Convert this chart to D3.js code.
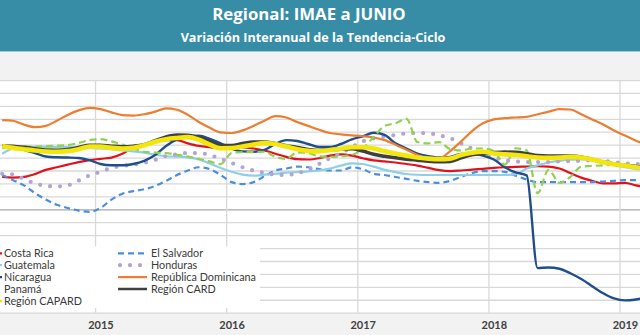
<!DOCTYPE html>
<html><head><meta charset="utf-8">
<script src="https://cdn.jsdelivr.net/npm/d3@7"></script>
<style>body{margin:0;background:#fff}svg{display:block}</style>
</head><body>
<svg id="c" width="640" height="335"></svg>
<script>
// ---- DATA (monthly, Apr 2014 .. Mar 2019) ----
const firstMonth = new Date(2014, 3, 1);
const months = d3.timeMonth.range(firstMonth, new Date(2019, 3, 1));
const yearLabels = ["2015", "2016", "2017", "2018", "2019"];
const yTicks = [-8,-7,-6,-5,-4,-3,-2,-1,0,1,2,3,4,5,6,7,8,9,10];

const costaRica = [2.5,2.45,2.5,2.72,3.05,3.25,3.45,3.65,3.8,
  3.9,4.0,4.3,4.75,5.0,5.2,5.35,5.35,5.1,4.9,4.8,4.72,
  4.75,4.78,4.7,4.55,4.3,4.05,3.88,3.85,3.95,4.15,4.25,4.15,
  3.95,3.78,3.7,3.62,3.5,3.38,3.2,3.03,2.95,3.0,3.07,3.13,
  3.2,3.25,3.28,3.3,3.33,3.3,3.15,2.8,2.45,2.2,2.0,2.0,
  2.05,1.85,1.7];
const elSalvador = [2.65,2.25,1.85,1.25,0.75,0.35,0.1,-0.1,-0.2,
  0.1,0.75,1.2,1.4,1.55,1.8,2.2,2.65,3.0,3.25,3.1,2.65,
  2.1,1.95,2.1,2.55,3.0,3.15,3.3,3.25,3.1,3.0,3.0,3.25,
  3.1,2.75,2.65,2.5,2.35,2.2,2.1,2.05,2.2,2.5,2.8,2.95,
  2.95,2.9,2.6,2.3,2.1,2.1,2.1,2.1,2.1,2.1,2.15,2.2,
  2.25,2.25,2.25];
const guatemala = [4.3,4.7,4.8,4.82,4.82,4.8,4.8,4.78,4.75,
  4.7,4.65,4.55,4.48,4.38,4.22,4.1,4.07,4.02,3.85,3.55,3.2,
  2.9,2.68,2.6,2.68,2.75,2.83,2.88,2.93,3.0,3.15,3.38,3.55,
  3.5,3.3,3.05,2.88,2.73,2.67,2.65,2.65,2.65,2.65,2.65,2.65,
  2.65,2.65,2.72,3.15,3.4,3.62,3.75,3.83,3.85,3.8,3.65,3.42,
  3.25,3.12,3.05];
const honduras = [2.75,2.7,2.35,2.0,1.82,1.77,1.85,2.22,2.62,
  2.9,3.2,3.35,3.45,3.6,3.82,4.12,4.25,4.35,4.35,4.2,3.9,
  3.58,3.25,3.0,2.82,2.68,2.65,2.78,3.05,3.5,3.95,4.35,4.8,
  5.25,5.48,5.63,5.75,5.87,5.9,5.88,5.72,5.5,5.1,4.7,4.3,
  4.0,3.8,3.7,3.65,3.65,3.65,3.7,3.72,3.75,3.78,3.75,3.65,
  3.55,3.5,3.45];
const nicaragua = [4.8,4.8,4.6,4.35,4.08,4.02,4.0,3.97,3.8,
  3.5,3.4,3.4,3.5,3.75,4.2,4.9,5.4,5.65,5.7,5.45,5.1,
  4.7,4.48,4.45,4.6,5.05,5.35,5.28,5.05,4.82,4.82,5.05,5.4,
  5.65,5.92,5.75,5.1,4.7,4.3,4.1,4.0,4.05,4.28,4.3,4.15,
  3.85,3.25,2.85,2.62,-4.55,-4.5,-4.6,-4.95,-5.4,-5.95,-6.5,-6.9,
  -7.05,-6.98,-6.8];
const repDominicana = [6.9,6.85,6.55,6.35,6.45,6.85,7.3,7.65,7.85,
  7.75,7.5,7.28,7.25,7.35,7.55,7.8,7.7,7.3,6.75,6.3,5.95,
  5.9,6.1,6.45,6.85,7.2,7.1,6.75,6.45,6.15,5.9,5.8,5.72,
  5.65,5.55,5.35,5.0,4.6,4.2,3.95,3.95,4.5,5.25,6.05,6.65,
  6.95,7.05,7.1,7.15,7.35,7.55,7.75,7.72,7.35,6.95,6.55,6.1,
  5.7,5.3,5.0];
const panama = [4.8,4.85,4.85,4.85,4.88,4.92,4.97,5.13,5.35,
  5.42,5.25,5.0,4.7,4.45,4.38,4.35,4.22,4.08,3.9,3.7,3.5,
  4.35,4.42,4.42,4.45,4.05,3.9,4.4,4.35,4.1,4.05,4.1,4.2,
  4.7,5.6,6.45,6.65,7.0,5.2,5.1,5.2,4.65,4.55,4.7,4.7,
  4.5,3.45,4.72,4.55,1.25,3.05,2.05,2.5,3.3,3.35,3.4,3.45,
  3.45,3.38,3.3];
const regionCARD = [4.9,4.88,4.8,4.68,4.58,4.57,4.62,4.78,4.95,
  4.95,4.88,4.83,4.88,5.0,5.3,5.6,5.75,5.72,5.55,5.25,4.95,
  4.92,5.08,5.2,5.2,5.08,4.92,4.78,4.62,4.55,4.6,4.65,4.68,
  4.5,4.25,4.1,3.98,3.88,3.8,3.72,3.68,3.7,3.98,4.22,4.3,
  4.38,4.42,4.4,4.3,4.15,4.12,4.12,4.12,4.05,3.85,3.65,3.5,
  3.4,3.3,3.2];
const regionCAPARD = [4.9,4.75,4.65,4.55,4.47,4.45,4.5,4.65,4.85,
  4.85,4.75,4.7,4.75,4.95,5.22,5.42,5.52,5.58,5.38,5.0,4.72,
  4.73,4.85,5.0,5.12,5.05,4.85,4.65,4.52,4.48,4.58,4.68,4.8,
  4.8,4.7,4.48,4.32,4.15,4.0,3.92,3.88,3.92,4.2,4.37,4.45,
  4.32,4.25,4.2,4.1,4.0,3.98,4.0,4.05,4.0,3.85,3.65,3.48,
  3.38,3.25,3.15];

const seriesNames = ["Costa Rica","El Salvador","Guatemala","Honduras","Nicaragua",
  "República Dominicana","Panamá","Región CARD","Región CAPARD"];
const seriesValues = [costaRica, elSalvador, guatemala, honduras, nicaragua,
  repDominicana, panama, regionCARD, regionCAPARD];

// ---- STYLES ----
const styles = {
  "Costa Rica": {c:"#e3121a", w:2.2, dash:null},
  "El Salvador": {c:"#4b8ee0", w:2.2, dash:"6,4"},
  "Guatemala": {c:"#8dcfe6", w:2.2, dash:null},
  "Honduras": {c:"#b3a4d3", w:4.2, dash:"0,10", cap:"round"},
  "Nicaragua": {c:"#1f4e8a", w:2.4, dash:null},
  "República Dominicana": {c:"#ed7d31", w:2.2, dash:null},
  "Panamá": {c:"#92d050", w:2.2, dash:"7,4"},
  "Región CARD": {c:"#404040", w:3.6, dash:null},
  "Región CAPARD": {c:"#f3e60a", w:4.6, dash:null}
};

const svg = d3.select("#c");
const W = 640, H = 335;
const plotTop = 80, plotBot = 312.7;

const monthIdx = d => (d.getFullYear() - 2015) * 12 + d.getMonth();
const x = d3.scaleLinear().domain([0, 48]).range([100.5, 625.0]);
const y = d3.scaleLinear().domain([-8, 10]).range([plotBot, plotTop]);

// backgrounds
svg.append("rect").attr("width", W).attr("height", H).attr("fill", "#f2f2f2");
svg.append("rect").attr("width", W).attr("height", 51).attr("fill", "#388da6");
svg.append("line").attr("x1",0).attr("x2",W).attr("y1",51.5).attr("y2",51.5)
  .attr("stroke","#9ccad8").attr("stroke-width",1);
svg.append("rect").attr("x",0).attr("y",79.5).attr("width",W).attr("height",plotBot-79.5).attr("fill","#fff");

// title
svg.append("text").attr("x",309).attr("y",19.5).attr("text-anchor","middle")
  .attr("font-family","Open Sans, sans-serif").attr("font-weight","bold")
  .attr("font-size",16.8).attr("fill","#fff").text("Regional: IMAE a JUNIO");
svg.append("text").attr("x",313).attr("y",42).attr("text-anchor","middle")
  .attr("font-family","Open Sans, sans-serif").attr("font-weight","bold")
  .attr("font-size",12.6).attr("fill","#fff").text("Variación Interanual de la Tendencia-Ciclo");

// horizontal gridlines via axis
const gy = svg.append("g")
  .call(d3.axisRight(y).tickValues(yTicks).tickSize(W).tickFormat(""));
gy.select(".domain").remove();
gy.selectAll(".tick line").attr("stroke", d => d === 0 ? "#a8a8a8" : "#d9d9d9").attr("stroke-width",1.3);

// vertical gridlines at year boundaries
const yearBounds = yearLabels.map((_, i) => i * 12 - 0.5);
const gx = svg.append("g").attr("transform",`translate(0,${plotBot})`)
  .call(d3.axisBottom(x).tickValues(yearBounds).tickSize(-(plotBot-plotTop)).tickFormat(""));
gx.select(".domain").remove();
gx.selectAll(".tick line").attr("stroke","#d9d9d9").attr("stroke-width",1.3);

// clip
svg.append("clipPath").attr("id","pc").append("rect")
  .attr("x",0).attr("y",plotTop-3).attr("width",W).attr("height",plotBot-plotTop+3);

const line = d3.line()
  .x((v, i) => x(monthIdx(months[i])))
  .y(v => y(v))
  .curve(d3.curveMonotoneX);

const gl = svg.append("g").attr("clip-path","url(#pc)");
seriesNames.forEach((n, k) => {
  const s = styles[n];
  gl.append("path").datum(seriesValues[k]).attr("d", line)
    .attr("fill","none").attr("stroke", s.c).attr("stroke-width", s.w)
    .attr("stroke-dasharray", s.dash).attr("stroke-linecap", s.cap || "butt")
    .attr("stroke-linejoin","round");
});

// legend
svg.append("rect").attr("x",0).attr("y",246.5).attr("width",260).attr("height",61.5).attr("fill","#fff");
const legLeft = ["Costa Rica","Guatemala","Nicaragua","Panamá","Región CAPARD"];
const legRight = ["El Salvador","Honduras","República Dominicana","Región CARD"];
const rowY = i => 253.3 + i * 11.9;
const lg = svg.append("g").attr("font-family","Lato, sans-serif").attr("font-size",10.8).attr("fill","#3a3a3a");
legLeft.forEach((n, i) => {
  const s = styles[n];
  lg.append("line").attr("x1",-30).attr("x2",n === "Panamá" ? -3 : 2)
    .attr("y1",rowY(i)).attr("y2",rowY(i)).attr("stroke",s.c).attr("stroke-width",Math.min(s.w,2.5));
  lg.append("text").attr("x",4).attr("y",rowY(i)).attr("dy","0.35em").text(n);
});
legRight.forEach((n, i) => {
  const s = styles[n];
  lg.append("line").attr("x1", n === "Honduras" ? 120 : 118).attr("x2",147)
    .attr("y1",rowY(i)).attr("y2",rowY(i)).attr("stroke",s.c)
    .attr("stroke-width", n === "Región CARD" ? 2.5 : s.w)
    .attr("stroke-dasharray", s.dash).attr("stroke-linecap", s.cap || "butt");
  lg.append("text").attr("x",151).attr("y",rowY(i)).attr("dy","0.35em").text(n);
});

// year labels
const yearTicks = yearLabels.map((_, i) => i * 12);
const ga = svg.append("g").attr("transform","translate(0,319.5)")
  .call(d3.axisBottom(x).tickValues(yearTicks).tickSize(0).tickFormat((d,i) => yearLabels[i]));
ga.select(".domain").remove();
ga.selectAll("text").attr("font-family","Lato, sans-serif").attr("font-weight","bold")
  .attr("font-size",11).attr("fill","#404040").attr("dy","0.6em");
</script>
</body></html>
